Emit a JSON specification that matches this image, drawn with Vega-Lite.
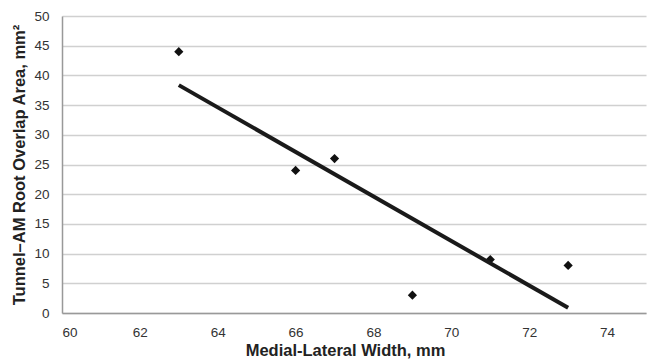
{
  "$schema": "https://vega.github.io/schema/vega-lite/v6.json",
  "width": 584,
  "height": 297,
  "autosize": {"type": "none"},
  "padding": {"left": 62, "top": 16, "right": 2, "bottom": 47},
  "background": "white",
  "config": {
    "view": {"stroke": null},
    "font": "Liberation Sans",
    "axis": {"labelFont": "Liberation Sans", "titleFont": "Liberation Sans", "labelColor": "#333", "titleColor": "#222"}
  },
  "data": {
    "values": [
      {"x": 63, "y": 44},
      {"x": 66, "y": 24},
      {"x": 67, "y": 26},
      {"x": 69, "y": 3},
      {"x": 71, "y": 9},
      {"x": 73, "y": 8}
    ]
  },
  "encoding": {
    "x": {
      "field": "x", "type": "quantitative",
      "scale": {"domain": [60, 75], "nice": false, "zero": false},
      "axis": {
        "title": "Medial-Lateral Width, mm",
        "values": [60, 62, 64, 66, 68, 70, 72, 74],
        "grid": false, "ticks": false, "domainColor": "#999", "domainWidth": 1.5,
        "labelFontSize": 13.5, "labelPadding": 12,
        "titleFontSize": 16.5, "titleFontWeight": "bold", "titlePadding": 4, "titleX": 283
      }
    },
    "y": {
      "field": "y", "type": "quantitative",
      "scale": {"domain": [0, 50], "nice": false},
      "axis": {
        "title": "Tunnel–AM Root Overlap Area, mm²",
        "values": [0, 5, 10, 15, 20, 25, 30, 35, 40, 45, 50],
        "grid": true, "gridColor": "#d0d0d0", "gridWidth": 1.5,
        "ticks": false, "domainColor": "#999", "domainWidth": 1.5,
        "labelFontSize": 13.5, "labelPadding": 13,
        "titleFontSize": 16.5, "titleFontWeight": "bold", "titlePadding": 6
      }
    }
  },
  "layer": [
    {
      "mark": {"type": "point", "shape": "diamond", "filled": true, "size": 85, "color": "#111", "opacity": 1}
    },
    {
      "transform": [{"regression": "y", "on": "x"}],
      "mark": {"type": "line", "color": "#1a1a1a", "strokeWidth": 4, "strokeCap": "butt"}
    }
  ]
}
